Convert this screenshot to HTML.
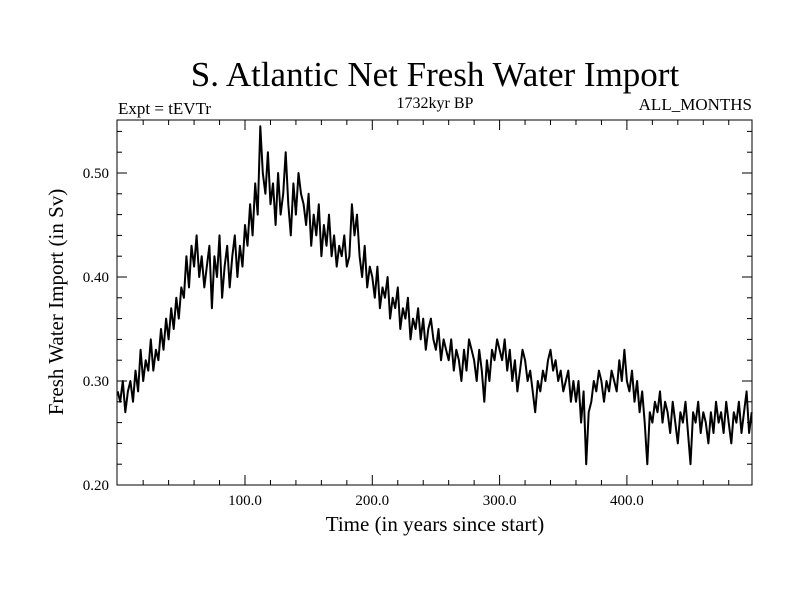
<!DOCTYPE html>
<html><head><meta charset="utf-8"><style>
body{margin:0;background:#fff;}
svg text{font-family:"Liberation Serif",serif;fill:#000;}
</style></head><body>
<svg id="chart" width="800" height="600" xmlns="http://www.w3.org/2000/svg">
<text x="435" y="86" font-size="35" text-anchor="middle">S. Atlantic Net Fresh Water Import</text>
<text x="118" y="114" font-size="17">Expt = tEVTr</text>
<text x="435" y="108" font-size="16" text-anchor="middle">1732kyr BP</text>
<text x="752" y="110" font-size="17" text-anchor="end">ALL_MONTHS</text>
<text x="435" y="531" font-size="21" text-anchor="middle">Time (in years since start)</text>
<text transform="translate(63,302) rotate(-90)" font-size="21" text-anchor="middle">Fresh Water Import (in Sv)</text>
<g id="axes"></g>
<path id="series" fill="none" stroke="#000" stroke-width="2" stroke-linejoin="round"/>
<rect x="117" y="120" width="635" height="365" fill="none" stroke="#000" stroke-width="1"/>
</svg>
<script>
const yearStart = 0, yearStep = 2;
const values = [
0.29,0.28,0.30,0.27,0.29,0.30,0.28,0.31,0.29,0.33,
0.30,0.32,0.31,0.34,0.31,0.33,0.32,0.35,0.33,0.36,
0.34,0.37,0.35,0.38,0.36,0.39,0.38,0.42,0.39,0.43,
0.41,0.44,0.40,0.42,0.39,0.41,0.43,0.37,0.42,0.40,
0.44,0.38,0.41,0.43,0.39,0.42,0.44,0.40,0.43,0.41,
0.45,0.43,0.47,0.44,0.49,0.46,0.545,0.50,0.48,0.52,
0.47,0.49,0.45,0.50,0.46,0.48,0.52,0.47,0.44,0.49,
0.46,0.50,0.48,0.47,0.45,0.48,0.43,0.46,0.44,0.47,
0.42,0.45,0.43,0.46,0.42,0.44,0.41,0.43,0.42,0.44,
0.41,0.42,0.47,0.44,0.46,0.42,0.40,0.43,0.39,0.41,
0.40,0.38,0.41,0.37,0.39,0.38,0.40,0.36,0.38,0.37,
0.39,0.35,0.37,0.36,0.38,0.34,0.36,0.35,0.37,0.34,
0.36,0.33,0.35,0.36,0.34,0.33,0.35,0.32,0.34,0.33,
0.32,0.34,0.31,0.33,0.32,0.30,0.33,0.31,0.34,0.33,
0.32,0.30,0.33,0.31,0.28,0.32,0.30,0.33,0.32,0.34,
0.33,0.32,0.34,0.31,0.33,0.30,0.32,0.29,0.31,0.33,
0.32,0.30,0.31,0.29,0.27,0.30,0.29,0.31,0.30,0.32,
0.33,0.31,0.32,0.30,0.31,0.29,0.30,0.31,0.28,0.30,
0.28,0.30,0.26,0.29,0.22,0.27,0.28,0.30,0.29,0.31,
0.30,0.28,0.30,0.29,0.31,0.30,0.29,0.32,0.30,0.33,
0.30,0.29,0.31,0.28,0.30,0.27,0.29,0.26,0.22,0.27,
0.26,0.28,0.27,0.29,0.26,0.28,0.27,0.25,0.28,0.26,
0.24,0.27,0.26,0.28,0.25,0.22,0.27,0.26,0.28,0.25,
0.27,0.26,0.24,0.27,0.25,0.28,0.26,0.27,0.25,0.28,
0.26,0.24,0.27,0.26,0.28,0.25,0.27,0.29,0.25,0.27];
const xTicks = [100,200,300,400];
const xTickLabels = ["100.0","200.0","300.0","400.0"];
const yTicks = [0.2,0.3,0.4,0.5];
const yTickLabels = ["0.20","0.30","0.40","0.50"];
const X0=117.7, XS=1.273, Y0=485, YS=1040;
function sx(v){return X0+v*XS;}
function sy(v){return Y0-(v-0.2)*YS;}
const ax=document.getElementById('axes'), NS='http://www.w3.org/2000/svg';
function line(x1,y1,x2,y2,name){const l=document.createElementNS(NS,'line');
l.setAttribute('x1',x1);l.setAttribute('y1',y1);l.setAttribute('x2',x2);l.setAttribute('y2',y2);l.setAttribute('stroke','#000');


ax.appendChild(l);}
for(let yr=20;yr<498;yr+=20){const major=yr%100===0;const L=major?10:5;
line(sx(yr),485,sx(yr),485-L,'x-tick');line(sx(yr),120,sx(yr),120+L,'x-tick');}
for(let i=0;i<=17;i++){const v=0.2+i*0.02;const major=i%5===0;const L=major?10:5;
line(117,sy(v),117+L,sy(v),'y-tick');line(752,sy(v),752-L,sy(v),'y-tick');}
xTicks.forEach((t,i)=>{const e=document.createElementNS(NS,'text');e.setAttribute('x',sx(t));e.setAttribute('y',505);e.setAttribute('font-size','15');e.setAttribute('text-anchor','middle');e.textContent=xTickLabels[i];


ax.appendChild(e);});
yTicks.forEach((t,i)=>{const e=document.createElementNS(NS,'text');e.setAttribute('x',109);e.setAttribute('y',sy(t)+5);e.setAttribute('font-size','15');e.setAttribute('text-anchor','end');e.textContent=yTickLabels[i];


ax.appendChild(e);});
let d='';values.forEach((v,i)=>{d+=(i?'L':'M')+sx(yearStart+i*yearStep).toFixed(1)+' '+sy(v).toFixed(1);});
document.getElementById('series').setAttribute('d',d);
</script>
</body></html>
